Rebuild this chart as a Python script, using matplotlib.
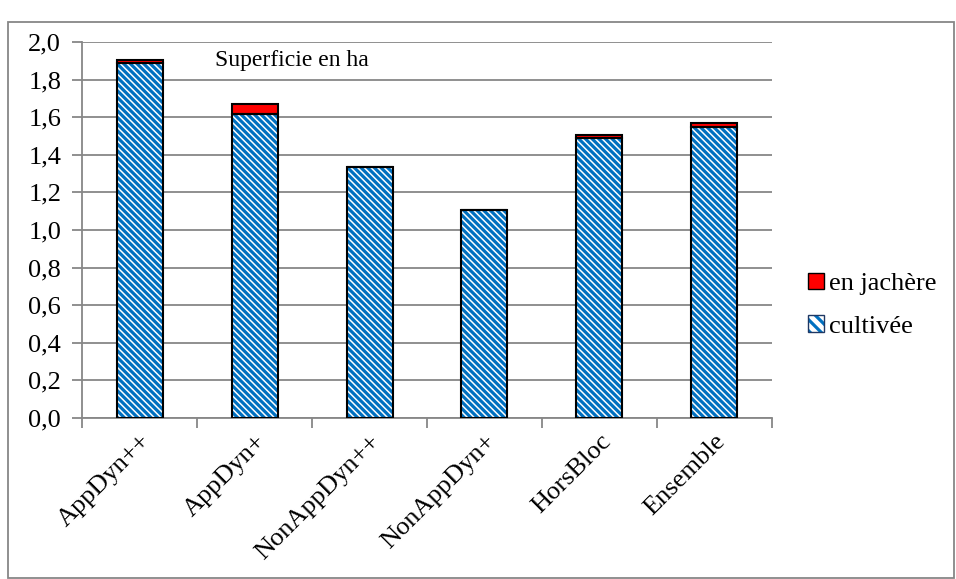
import numpy as np
import matplotlib
matplotlib.use('Agg')
from matplotlib import pyplot as plt
from matplotlib.patches import Rectangle
from matplotlib.legend_handler import HandlerTuple

categories = ['AppDyn++', 'AppDyn+', 'NonAppDyn++', 'NonAppDyn+', 'HorsBloc', 'Ensemble']
cultivee = [1.89, 1.615, 1.335, 1.105, 1.49, 1.55]
jachere = [0.015, 0.055, 0.0, 0.0, 0.015, 0.02]
yticks = [0.0, 0.2, 0.4, 0.6, 0.8, 1.0, 1.2, 1.4, 1.6, 1.8, 2.0]

plt.rcParams['font.family'] = ['Liberation Serif', 'DejaVu Serif']
plt.rcParams['hatch.linewidth'] = 2.3

grey = '#878787'
blue = '#0070C0'
fig = plt.figure(figsize=(9.56, 5.79), dpi=100)
ax = fig.add_axes([0.0858, 0.278, 0.7217, 0.6495])

x = np.arange(len(categories))
b1 = ax.bar(x, cultivee, width=0.4, color='white', edgecolor=blue,
            hatch='\\\\\\\\\\', linewidth=0, zorder=3)
b2 = ax.bar(x, jachere, width=0.4, bottom=cultivee, color='#FF0000',
            edgecolor='black', linewidth=1.5, zorder=3)
# hatch colour comes from edgecolor, so outline the bars separately
for p in b1:
    ax.add_patch(Rectangle(p.get_xy(), p.get_width(), p.get_height(),
                           fill=False, edgecolor='black', linewidth=1.5, zorder=4))

ax.set_xlim(-0.5, len(categories) - 0.5)
ax.set_ylim(0, 2.0)
ax.set_yticks(yticks)
ax.set_yticklabels([('%.1f' % v).replace('.', ',') for v in yticks], fontsize=19)
ax.yaxis.grid(True, color=grey, linewidth=1.3, zorder=0)
ax.set_axisbelow(True)

ax.set_xticks(x)
ax.set_xticklabels(categories, rotation=45, ha='right', rotation_mode='anchor', fontsize=19)
ax.set_xticks(np.arange(-0.5, len(categories)), minor=True)
ax.tick_params(axis='x', which='major', length=0, pad=9)
ax.tick_params(axis='x', which='minor', length=7, color=grey, width=1.3)
ax.tick_params(axis='y', length=7, color=grey, width=1.3, pad=8)

for s in ['top', 'right']:
    ax.spines[s].set_visible(False)
for s in ['left', 'bottom']:
    ax.spines[s].set_color(grey)
    ax.spines[s].set_linewidth(1.3)

ax.text(0.193, 0.952, 'Superficie en ha', transform=ax.transAxes,
        fontsize=17, va='center', ha='left')

h_jach = Rectangle((0, 0), 1, 1, facecolor='#FF0000', edgecolor='black', linewidth=1.0)
h_cult = (Rectangle((0, 0), 1, 1, facecolor='white', edgecolor=blue, hatch='\\\\\\', linewidth=0),
          Rectangle((0, 0), 1, 1, fill=False, edgecolor='#1F3864', linewidth=1.0))
ax.legend([h_jach, h_cult], ['en jachère', 'cultivée'], loc='center left',
          bbox_to_anchor=(1.018, 0.30), frameon=False, fontsize=19,
          handlelength=0.6, handleheight=0.6, handletextpad=0.2,
          labelspacing=0.75, handler_map={tuple: HandlerTuple(ndivide=1, pad=0)})

fig.add_artist(Rectangle((8 / 956, 1 / 579), 946 / 956, 556 / 579,
                         transform=fig.transFigure, fill=False,
                         edgecolor=grey, linewidth=1.3))

fig.savefig('out.png', dpi=100)
